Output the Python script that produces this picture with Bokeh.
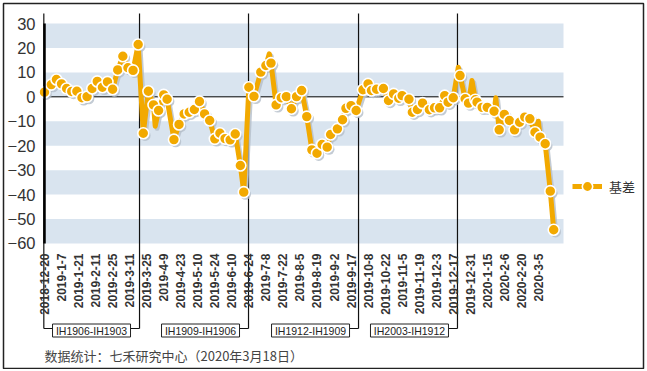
import numpy as np
from bokeh.plotting import figure
from bokeh.models import Range1d, FixedTicker, Legend, LegendItem
from bokeh.core.properties import value
from bokeh.embed import file_html
from bokeh.resources import INLINE

# ---------------- data ----------------
tick_labels = ["2018-12-20", "2019-1-7", "2019-1-21", "2019-2-11", "2019-2-25", "2019-3-11",
               "2019-3-25", "2019-4-9", "2019-4-23", "2019-5-10", "2019-5-24", "2019-6-10",
               "2019-6-24", "2019-7-8", "2019-7-22", "2019-8-5", "2019-8-19", "2019-9-2",
               "2019-9-17", "2019-10-8", "2019-10-22", "2019-11-5", "2019-11-19", "2019-12-3",
               "2019-12-17", "2019-12-31", "2020-1-15", "2020-2-6", "2020-2-20", "2020-3-5"]
tick_idx = list(range(0, 300, 10))  # trading-day index of each label

# basis (trading-day index, value) at marked points
basis_idx = [0, 4, 7, 10, 13, 16, 19, 22, 25, 28, 31, 34, 37, 40, 43, 46, 49, 52, 55,
             58, 61, 64, 67, 70, 72, 76, 79, 82, 85, 88, 91, 94, 97, 100, 103, 106, 109, 112, 115, 117,
             120, 123, 127, 130, 133, 136, 139, 142, 145, 148, 151, 154, 157, 160, 163, 166, 168, 172,
             175, 177, 180, 183,
             187, 190, 192, 195, 199, 202, 205, 208, 210, 214, 216, 219, 222, 226, 229, 232, 235, 237, 240,
             244, 247, 249, 253, 254, 257, 260, 264, 267, 270, 273, 276, 279, 282, 285, 288, 291, 294, 297, 299]
basis_val = [1.9, 5.0, 7.1, 5.3, 3.4, 2.2, 2.3, -0.4, 0.1, 3.4, 6.3, 3.9, 6.1, 3.1, 11.0, 16.6, 11.9, 10.8, 21.4,
             -14.9, 2.3, -3.3, -5.6, 0.8, -1.0, -17.5, -11.3, -7.0, -6.3, -5.2, -1.9, -7.0, -9.7, -17.2, -14.9,
             -17.1, -17.6, -15.2, -28.1, -39.0,
             3.9, 0.2, 10.1, 12.8, 13.8, -3.3, -0.4, 0.1, -4.9, 0.1, 2.6, -8.1, -21.7, -23.1, -19.5, -20.6,
             -15.4, -13.1, -9.4, -4.7, -3.6, -5.6,
             2.9, 5.3, 2.6, 3.1, 3.4, -1.5, 1.2, -0.6, 0.5, -1.0, -6.3, -5.2, -2.6, -5.3, -4.5, -4.5, 0.5, -2.2, -0.4,
             8.7, -0.8, -2.6, -1.2, -2.2, -4.3, -4.3, -5.9, -13.5, -7.2, -9.7, -13.5, -10.4, -8.3, -9.0, -14.5,
             -16.5, -19.2, -38.6, -54.4]
# unmarked daily spikes of the line
spike_idx = [65, 132, 243, 251, 265, 290]
spike_val = [-12.0, 17.6, 12.1, 6.7, -0.4, -10.0]

roll_idx = [55.8, 119.8, 184.4, 242.5]  # contract switch positions
contract_labels = ["IH1906-IH1903", "IH1909-IH1906", "IH1912-IH1909", "IH2003-IH1912"]
y_ticks = list(range(-60, 31, 10))
band_bottoms = [20, 0, -20, -40, -60]
series_name = "基差"
footer = "数据统计：七禾研究中心（2020年3月18日）"

# ---------------- layout ----------------
FIG_W, FIG_H = 645, 369
FL, FT, FR, FB = 3, 3, 2, 1          # frame borders (frame = outer chart box)
W, H = FIG_W - FL - FR, FIG_H - FT - FB
PX_X, PX_Y = 1.703, 2.444
ORIGIN_X, TOP_Y = 44 - FL, 23 - FT   # idx 0 / value 30 position inside frame
x_start = -ORIGIN_X / PX_X
x_end = x_start + W / PX_X
y_end = 30 + TOP_Y / PX_Y
y_start = y_end - H / PX_Y


def yv(page_y):
    return y_end - (page_y - FT) / PX_Y


def dx(px):
    return px / PX_X


plot_right = (563 - 44) / PX_X
ORANGE = "#F2A900"
BAND = "#D9E4EF"

p = figure(width=FIG_W, height=FIG_H, output_backend="svg", toolbar_location=None,
           x_range=Range1d(x_start, x_end), y_range=Range1d(y_start, y_end),
           min_border=0, min_border_left=FL, min_border_right=FR,
           min_border_top=FT, min_border_bottom=FB)
p.outline_line_color = "#222222"
p.outline_line_width = 1.5
p.grid.visible = False
p.background_fill_color = "white"

# bands
p.quad(left=0, right=plot_right, bottom=band_bottoms, top=[b + 10 for b in band_bottoms],
       fill_color=BAND, line_color=None)
p.segment(x0=[0], y0=[0], x1=[plot_right], y1=[0], line_color="black", line_width=1)

# roll lines / brackets
line_top = yv(13)
line_bot = yv(328)
box_y = yv(330)
LINE_C = "#111111"
p.segment(x0=[-0.4] + roll_idx, y0=line_top, x1=[-0.4] + roll_idx, y1=line_bot,
          line_color=LINE_C, line_width=1.2)
box_w = 78
box_x = [r - dx(9 + box_w / 2) for r in roll_idx]
p.segment(x0=[bx + dx(box_w / 2) for bx in box_x], y0=line_bot, x1=roll_idx, y1=line_bot,
          line_color=LINE_C, line_width=1.2)
p.segment(x0=[-0.4], y0=line_bot, x1=[box_x[0] - dx(box_w / 2)], y1=line_bot,
          line_color=LINE_C, line_width=1.2)
p.rect(x=box_x, y=box_y, width=box_w, height=13, width_units="screen", height_units="screen",
       fill_color="white", line_color="#222222", line_width=1)
p.text(x=box_x, y=box_y, text=contract_labels, text_align="center", text_baseline="middle",
       text_font=value("Liberation Sans"), text_font_size="10.5px", text_color="#222222")

# series
pts = sorted(zip(basis_idx + spike_idx, basis_val + spike_val))
lx = np.array([a for a, b in pts], dtype=float)
ly = np.array([b for a, b in pts], dtype=float)
sx, sy = dx(1.8), -2.2 / PX_Y
p.line(lx + sx, ly + sy, line_color="#B4BEC9", line_width=5, line_alpha=0.8, line_join="round")
p.scatter(np.array(basis_idx) + sx, np.array(basis_val) + sy, size=11, fill_color="#B4BEC9",
          line_color=None, fill_alpha=0.8)
lr = p.line(lx, ly, line_color=ORANGE, line_width=5, line_join="round")
mr = p.scatter(basis_idx, basis_val, size=11, fill_color=ORANGE, line_color="white", line_width=1.6)

# axes
p.yaxis.fixed_location = 0
p.yaxis.bounds = (-60, 30)
p.yaxis.ticker = FixedTicker(ticks=y_ticks)
p.yaxis.axis_line_width = 2.5
p.yaxis.axis_line_color = "black"
p.yaxis.major_tick_line_color = None
p.yaxis.minor_tick_line_color = None
p.yaxis.major_label_text_font = "Liberation Sans"
p.yaxis.major_label_text_font_size = "16.5px"
p.yaxis.major_label_text_color = "#333333"
p.yaxis.major_label_standoff = 3

p.xaxis.fixed_location = -60
p.xaxis.ticker = FixedTicker(ticks=tick_idx)
p.xaxis.major_label_overrides = {t: s for t, s in zip(tick_idx, tick_labels)}
p.xaxis.axis_line_color = None
p.xaxis.major_tick_line_color = None
p.xaxis.minor_tick_line_color = None
p.xaxis.major_label_orientation = np.pi / 2
p.xaxis.major_label_text_font = "Liberation Sans"
p.xaxis.major_label_text_font_size = "12px"
p.xaxis.major_label_text_font_style = "bold"
p.xaxis.major_label_text_color = "#333333"
p.xaxis.major_label_standoff = 4

GH = 26
legend = Legend(items=[LegendItem(label=series_name, renderers=[lr, mr])],
                location=(572 - FL, (FIG_H - FB) - 186 - GH // 2),
                glyph_width=30, glyph_height=GH, label_height=GH, label_standoff=7,
                padding=0, margin=0, spacing=0,
                label_text_font="Noto Sans CJK SC", label_text_font_size="13px",
                label_text_color="#333333", background_fill_alpha=0, border_line_alpha=0)
p.add_layout(legend)

# footer note
p.text(x=[0], y=[yv(355)], text=[footer], text_align="left", text_baseline="middle",
       text_font=value("Noto Sans CJK SC"), text_font_size="13px", text_color="#444444")

open("out.html", "w").write(file_html(p, INLINE))
